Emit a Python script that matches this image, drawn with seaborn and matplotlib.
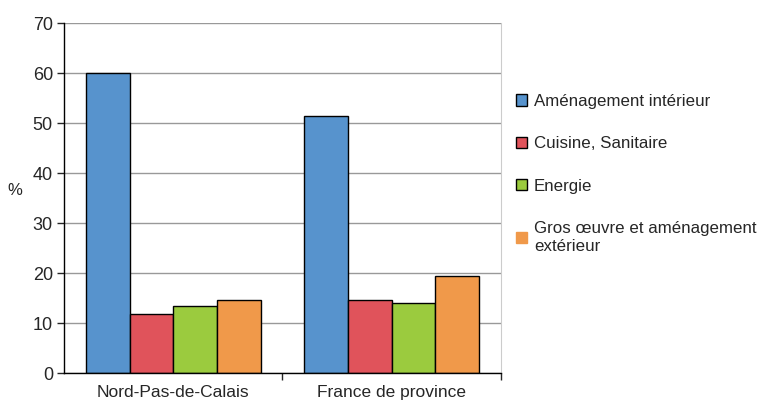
import seaborn as sns
import matplotlib.pyplot as plt
import pandas as pd
from matplotlib.patches import Patch

# Data
regions = ["Nord-Pas-de-Calais", "France de province"]
series = ["Aménagement intérieur", "Cuisine, Sanitaire", "Energie",
          "Gros œuvre et aménagement\nextérieur"]
npc_values = [60.0, 11.8, 13.4, 14.7]
france_values = [51.5, 14.7, 14.0, 19.5]
colors = ["#5793CD", "#E0535B", "#9BCB3E", "#F0994A"]

rows = []
for s, a, b in zip(series, npc_values, france_values):
    rows.append({"region": regions[0], "poste": s, "pct": a})
    rows.append({"region": regions[1], "poste": s, "pct": b})
df = pd.DataFrame(rows)

sns.set_style("white")
plt.rcParams["font.family"] = ["Liberation Sans", "DejaVu Sans"]

fig = plt.figure(figsize=(7.65, 4.05), dpi=100)
ax = fig.add_axes([0.0837, 0.079, 0.571, 0.864])

sns.barplot(data=df, x="region", y="pct", hue="poste", palette=colors,
            width=0.8, edgecolor="black", linewidth=1, saturation=1,
            errorbar=None, legend=False, ax=ax)

ax.set_ylim(0, 70)
ax.set_xlim(-0.5, 1.5)
ax.set_yticks(range(0, 71, 10))
ax.yaxis.grid(True, color="#999999", linewidth=1)
ax.set_axisbelow(True)
ax.tick_params(axis="y", left=True, length=5, width=1, labelsize=13, pad=3)
ax.set_xticks([0.5, 1.5], minor=True)
ax.tick_params(axis="x", which="minor", bottom=True, length=5, width=1)
ax.tick_params(axis="x", which="major", bottom=False, labelsize=12.5, pad=5)
ax.set_xlabel("")
ax.set_ylabel("%", rotation=0, fontsize=12)
ax.yaxis.set_label_coords(-0.112, 0.5, transform=ax.transAxes)

for side in ["left", "bottom"]:
    ax.spines[side].set_color("black")
    ax.spines[side].set_linewidth(1)
ax.spines["top"].set_visible(False)
ax.spines["right"].set_color("#cccccc")

handles = [Patch(facecolor=c, edgecolor="black" if i < 3 else c, linewidth=1)
           for i, c in enumerate(colors)]
fig.legend(handles, series, loc="upper left", bbox_to_anchor=(0.655, 0.806),
           frameon=False, fontsize=12.2, handlelength=0.65, handleheight=0.65,
           handletextpad=0.4, labelspacing=1.62)

plt.savefig("out.png", dpi=100)
